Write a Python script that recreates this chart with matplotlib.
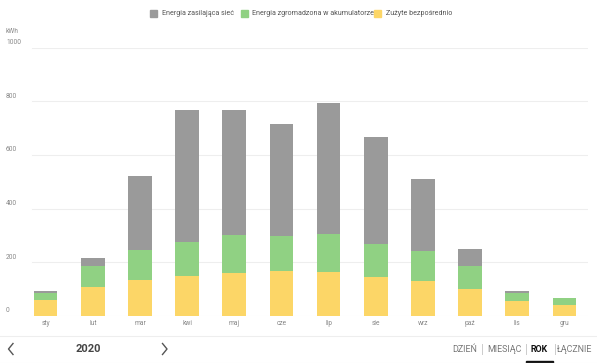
import matplotlib
matplotlib.use("Agg")
import matplotlib.pyplot as plt
from matplotlib.lines import Line2D
from matplotlib.patches import Rectangle
import numpy as np

plt.rcParams['font.family'] = ['Roboto', 'DejaVu Sans']

months = ["sty", "lut", "mar", "kwi", "maj", "cze", "lip", "sie", "wrz", "paź", "lis", "gru"]
direct = [58, 109, 135, 149, 159, 169, 163, 146, 129, 99, 56, 41]
battery = [29, 78, 110, 128, 143, 129, 142, 121, 113, 87, 28, 26]
grid = [5, 28, 276, 490, 465, 416, 488, 401, 269, 64, 9, 1]
yticks = [0, 200, 400, 600, 800, 1000]
legend_labels = ["Energia zasilająca sieć", "Energia zgromadzona w akumulatorze", "Zużyte bezpośrednio"]
tab_labels = ["DZIEŃ", "MIESIĄC", "ROK", "ŁĄCZNIE"]
year_label = "2020"

C_GRAY = "#9a9a9a"
C_GREEN = "#90d183"
C_YELLOW = "#fcd667"

W, H = 597, 363
fig = plt.figure(figsize=(W / 100, H / 100), dpi=100)
fig.patch.set_facecolor("white")

def fx(px):
    return px / W

def fy(py):
    return 1 - py / H

ax = fig.add_axes([fx(22), fy(316), fx(588) - fx(22), fy(47.5) - fy(316)])
ax.set_xlim(-0.5, 11.5)
ax.set_ylim(0, 1000)
for s in ax.spines.values():
    s.set_visible(False)
ax.set_xticks([])
ax.set_yticks([])

gx0 = (32 - 22) / (588 - 22)
for t in yticks:
    ax.axhline(t, xmin=gx0, xmax=1 - 0.002, color="#eeeeee", lw=0.8, zorder=0)

x = np.arange(len(months))
d = np.array(direct)
b = np.array(battery)
g = np.array(grid)
bw = 0.5
ax.bar(x, d, width=bw, color=C_YELLOW, zorder=2)
ax.bar(x, b, width=bw, bottom=d, color=C_GREEN, zorder=2)
ax.bar(x, g, width=bw, bottom=d + b, color=C_GRAY, zorder=2)

for i, m in enumerate(months):
    ax.text(i, -35, m, ha="center", va="baseline", fontsize=4.8, color="#888888")

for t in yticks:
    yp = 316 - t * 0.2685
    fig.text(fx(6), fy(yp - 1.5), str(t), ha="left", va="bottom", fontsize=4.8, color="#888888")
fig.text(fx(6), fy(31.5), "kWh", ha="left", va="center", fontsize=4.8, color="#888888")

# legend
leg = [(150, C_GRAY, legend_labels[0]), (241, C_GREEN, legend_labels[1]), (374, C_YELLOW, legend_labels[2])]
for px, col, lab in leg:
    fig.patches.append(Rectangle((fx(px), fy(17)), fx(7), fy(10) - fy(17),
                                 transform=fig.transFigure, color=col, figure=fig))
    fig.text(fx(px + 11.5), fy(13.3), lab, ha="left", va="center", fontsize=5.1, color="#555555")

# bottom bar
fig.lines.append(Line2D([0, 1], [fy(336), fy(336)], transform=fig.transFigure, color="#eeeeee", lw=0.8))
fig.lines.append(Line2D([0, 1], [fy(362.5), fy(362.5)], transform=fig.transFigure, color="#f0f0f0", lw=0.8))

# chevrons
fig.lines.append(Line2D([fx(13), fx(8.5), fx(13)], [fy(343.5), fy(349), fy(354.5)],
                        transform=fig.transFigure, color="#555555", lw=1.0))
fig.lines.append(Line2D([fx(162.5), fx(167), fx(162.5)], [fy(343.5), fy(349), fy(354.5)],
                        transform=fig.transFigure, color="#555555", lw=1.0))
fig.text(fx(88), fy(349), year_label, ha="center", va="center", fontsize=8, color="#444444", fontweight="bold")

# tabs
tab_x = [464.5, 504, 539, 575]
for cx, lab in zip(tab_x, tab_labels):
    bold = lab == "ROK"
    fig.text(fx(cx), fy(349), lab, ha="center", va="center", fontsize=6.4,
             color="#111111" if bold else "#777777", fontweight="bold" if bold else "normal")
for sx in [482, 526, 554.5]:
    fig.lines.append(Line2D([fx(sx), fx(sx)], [fy(344), fy(354)], transform=fig.transFigure,
                            color="#cccccc", lw=0.7))
fig.patches.append(Rectangle((fx(526), fy(363)), fx(27), fy(360.5) - fy(363),
                             transform=fig.transFigure, color="#111111", figure=fig))

fig.savefig("out.png", dpi=100, facecolor="white")
